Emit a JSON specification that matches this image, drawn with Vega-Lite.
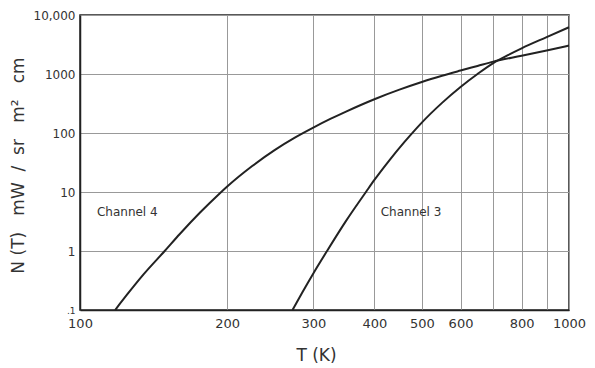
{
  "$schema": "https://vega.github.io/schema/vega-lite/v6.json",
  "width": 489,
  "height": 295,
  "autosize": "none",
  "padding": {"left": 80, "top": 15, "right": 26, "bottom": 58},
  "background": "white",
  "config": {
    "view": {"stroke": "#222", "strokeWidth": 1.5},
    "font": "DejaVu Sans",
    "axis": {
      "gridColor": "#999",
      "gridWidth": 1,
      "domainColor": "#222",
      "domainWidth": 1.5,
      "tickSize": 0,
      "labelColor": "#333",
      "titleColor": "#333",
      "labelFontWeight": "normal",
      "titleFontWeight": "normal"
    }
  },
  "datasets": {
    "curves": [
      {"T": 118, "N": 0.1, "ch": "4"},
      {"T": 125, "N": 0.185, "ch": "4"},
      {"T": 135, "N": 0.405, "ch": "4"},
      {"T": 149, "N": 1.0, "ch": "4"},
      {"T": 160, "N": 1.94, "ch": "4"},
      {"T": 176, "N": 4.48, "ch": "4"},
      {"T": 193, "N": 9.44, "ch": "4"},
      {"T": 200, "N": 12.4, "ch": "4"},
      {"T": 225, "N": 27.6, "ch": "4"},
      {"T": 250, "N": 51.4, "ch": "4"},
      {"T": 275, "N": 83.6, "ch": "4"},
      {"T": 300, "N": 123.6, "ch": "4"},
      {"T": 325, "N": 173, "ch": "4"},
      {"T": 350, "N": 231, "ch": "4"},
      {"T": 400, "N": 374, "ch": "4"},
      {"T": 450, "N": 543, "ch": "4"},
      {"T": 500, "N": 733, "ch": "4"},
      {"T": 550, "N": 933, "ch": "4"},
      {"T": 600, "N": 1143, "ch": "4"},
      {"T": 650, "N": 1371, "ch": "4"},
      {"T": 700, "N": 1622, "ch": "4"},
      {"T": 800, "N": 2042, "ch": "4"},
      {"T": 900, "N": 2512, "ch": "4"},
      {"T": 1000, "N": 3034, "ch": "4"},
      {"T": 272, "N": 0.1, "ch": "3"},
      {"T": 285, "N": 0.2, "ch": "3"},
      {"T": 300, "N": 0.417, "ch": "3"},
      {"T": 320, "N": 1.0, "ch": "3"},
      {"T": 350, "N": 3.24, "ch": "3"},
      {"T": 385, "N": 10.2, "ch": "3"},
      {"T": 400, "N": 16.0, "ch": "3"},
      {"T": 430, "N": 35.1, "ch": "3"},
      {"T": 460, "N": 69.2, "ch": "3"},
      {"T": 484, "N": 112, "ch": "3"},
      {"T": 500, "N": 150, "ch": "3"},
      {"T": 550, "N": 324, "ch": "3"},
      {"T": 600, "N": 603, "ch": "3"},
      {"T": 650, "N": 1000, "ch": "3"},
      {"T": 700, "N": 1531, "ch": "3"},
      {"T": 750, "N": 2089, "ch": "3"},
      {"T": 800, "N": 2723, "ch": "3"},
      {"T": 900, "N": 4217, "ch": "3"},
      {"T": 1000, "N": 6209, "ch": "3"}
    ],
    "labels": [
      {"T": 108.3, "N": 4.6, "text": "Channel 4"},
      {"T": 412, "N": 4.6, "text": "Channel 3"}
    ]
  },
  "layer": [
    {
      "data": {"name": "curves"},
      "mark": {"type": "line", "color": "#222", "strokeWidth": 2, "interpolate": "monotone"},
      "encoding": {
        "x": {
          "field": "T", "type": "quantitative",
          "scale": {"type": "log", "domain": [100, 1000], "nice": false},
          "axis": {
            "title": "T (K)",
            "values": [100, 200, 300, 400, 500, 600, 700, 800, 900, 1000],
            "labelExpr": "datum.value == 700 || datum.value == 900 ? '' : format(datum.value, 'd')",
            "labelFlush": false,
            "labelFontSize": 13,
            "labelPadding": 7,
            "titleFontSize": 17,
            "titleX": 236,
            "titleY": 45,
            "titleBaseline": "middle"
          }
        },
        "y": {
          "field": "N", "type": "quantitative",
          "scale": {"type": "log", "domain": [0.1, 10000], "nice": false},
          "axis": {
            "title": "N (T)\u00a0\u00a0 mW\u00a0 /\u00a0 sr\u00a0\u00a0 m²\u00a0\u00a0 cm",
            "values": [0.1, 1, 10, 100, 1000, 10000],
            "labelExpr": "datum.value == 0.1 ? '.1' : datum.value == 10000 ? '10,000' : format(datum.value, 'd')",
            "labelFontSize": {"condition": {"test": "datum.value == 0.1", "value": 9}, "value": 12},
            "labelPadding": 5,
            "titleFontSize": 17,
            "titleAngle": -90,
            "titleX": -62,
            "titleY": 150,
            "titleAlign": "center",
            "titleBaseline": "middle"
          }
        },
        "detail": {"field": "ch"}
      }
    },
    {
      "data": {"name": "labels"},
      "mark": {"type": "text", "align": "left", "baseline": "middle", "fontSize": 12, "color": "#333"},
      "encoding": {
        "x": {"field": "T", "type": "quantitative"},
        "y": {"field": "N", "type": "quantitative"},
        "text": {"field": "text"}
      }
    }
  ]
}
